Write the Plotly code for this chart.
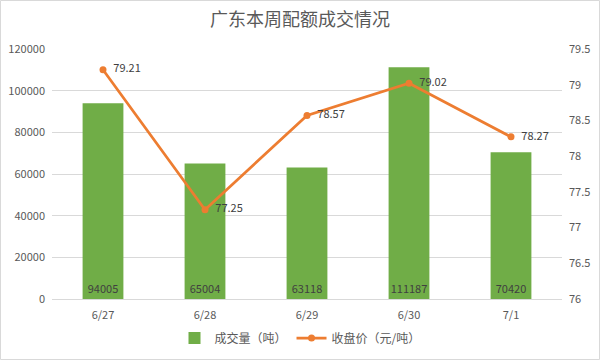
import plotly.graph_objects as go

categories = ["6/27", "6/28", "6/29", "6/30", "7/1"]
volume = [94005, 65004, 63118, 111187, 70420]
price = [79.21, 77.25, 78.57, 79.02, 78.27]

FONT = "Noto Sans CJK SC"
GRAY = "#595959"

fig = go.Figure()
fig.add_trace(go.Bar(
    x=categories, y=volume, name="成交量（吨）",
    marker=dict(color="#70AD47", line=dict(width=0)),
    width=0.4,
    text=[str(v) for v in volume], textposition="inside", insidetextanchor="start",
    textangle=0, constraintext="none",
    textfont=dict(color="#404040", size=11, family=FONT),
    yaxis="y",
))
fig.add_trace(go.Scatter(
    x=categories, y=price, name="收盘价（元/吨）",
    mode="lines+markers+text",
    line=dict(color="#ED7D31", width=2.75),
    marker=dict(color="#ED7D31", size=7),
    text=["  " + f"{p:.2f}" for p in price], textposition="middle right",
    textfont=dict(color="#404040", size=11, family=FONT),
    yaxis="y2",
))

L, R, T, B = 52, 38, 49, 61
W, H = 600, 360
pw, ph = W - L - R, H - T - B

fig.update_layout(
    width=W, height=H,
    margin=dict(l=L, r=R, t=T, b=B, autoexpand=False),
    paper_bgcolor="white", plot_bgcolor="white",
    font=dict(family=FONT, color=GRAY, size=11),
    title=dict(text="广东本周配额成交情况", x=0.5, xanchor="center", y=0.945, yanchor="middle",
               font=dict(size=18, color=GRAY, family=FONT)),
    xaxis=dict(showgrid=False, showline=True, linecolor="#D9D9D9", ticks="",
               tickfont=dict(size=11, color=GRAY), ticklabelstandoff=6),
    yaxis=dict(range=[0, 120000], dtick=20000, showgrid=True, gridcolor="#D9D9D9",
               zeroline=False, showline=False, tickfont=dict(size=11, color=GRAY),
               tickformat="d", ticklabelstandoff=6),
    yaxis2=dict(range=[76, 79.5], dtick=0.5, overlaying="y", side="right",
                showgrid=False, zeroline=False, showline=False,
                tickfont=dict(size=11, color=GRAY), tickformat="~g", ticklabelstandoff=6),
    legend=dict(orientation="h", x=0.5, xanchor="center", xref="container",
                y=0.061, yanchor="middle", yref="container",
                font=dict(size=12, color=GRAY)),
    showlegend=True,
)
fig.add_shape(type="rect", xref="paper", yref="paper",
              x0=-L / pw + 0.5 / pw, x1=1 + (R - 0.5) / pw,
              y0=-B / ph + 0.5 / ph, y1=1 + (T - 0.5) / ph,
              line=dict(color="#D9D9D9", width=1), layer="below")

fig.write_html("out.html", config={"displayModeBar": False},
               post_script="document.body.style.margin='0';")
